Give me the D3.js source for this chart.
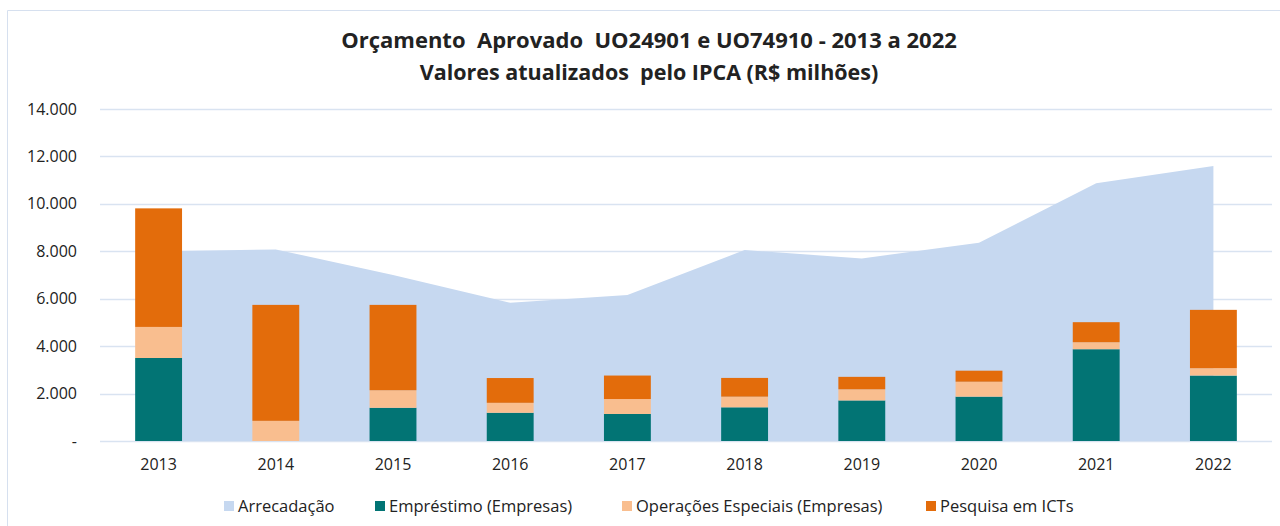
<!DOCTYPE html>
<html>
<head>
<meta charset="utf-8">
<script src="https://cdn.jsdelivr.net/npm/d3@7"></script>
<style>
  body { margin: 0; background: #fff; }
  svg text { font-family: "Open Sans", "Noto Sans", sans-serif; fill: #222; }
</style>
</head>
<body>
<script>
// chart data (R$ milhões)
const anos = ["2013", "2014", "2015", "2016", "2017", "2018", "2019", "2020", "2021", "2022"];
const arrecadacao = [8000, 8080, 7000, 5830, 6160, 8050, 7700, 8360, 10870, 11600];
const emprestimo = [3500, 0, 1400, 1190, 1140, 1420, 1710, 1870, 3870, 2760];
const operacoes = [1310, 850, 740, 420, 630, 450, 470, 630, 295, 310];
const pesquisa = [5000, 4890, 3600, 1045, 990, 790, 525, 465, 845, 2460];
const yTicks = [0, 2000, 4000, 6000, 8000, 10000, 12000, 14000];
const titulo = ["Orçamento  Aprovado  UO24901 e UO74910 - 2013 a 2022", "Valores atualizados  pelo IPCA (R$ milhões)"];

const W = 1280, H = 526;
const plot = { left: 100, right: 1272, top: 109, bottom: 441 };

const svg = d3.select("body").append("svg")
  .attr("width", W).attr("height", H);

// outer frame
svg.append("path")
  .attr("d", `M7.5,${H} V10.5 H${W}`)
  .attr("fill", "none").attr("stroke", "#d6e0ef").attr("stroke-width", 1);

// title
svg.append("g").selectAll("text")
  .data(titulo)
  .enter().append("text")
  .attr("x", 649).attr("y", (d, i) => 48 + i * 32)
  .attr("text-anchor", "middle")
  .style("font-size", (d, i) => i === 0 ? "22px" : "21.5px").style("font-weight", "bold")
  .style("white-space", "pre")
  .text(d => d);

const x = d3.scaleBand().domain(anos).range([plot.left, plot.right]).paddingInner(0.6).paddingOuter(0.3);
const y = d3.scaleLinear().domain([0, 14000]).range([plot.bottom, plot.top]);

// grid
svg.append("g").selectAll("line")
  .data(yTicks)
  .enter().append("line")
  .attr("x1", plot.left).attr("x2", plot.right)
  .attr("y1", d => Math.round(y(d)) + 0.5).attr("y2", d => Math.round(y(d)) + 0.5)
  .attr("stroke", "#d9e3f1").attr("stroke-width", 1.5);

// y axis labels
const fmt = d => d === 0 ? "-" : d3.format(",")(d).replace(/,/g, ".");
svg.append("g")
  .attr("transform", `translate(77,0)`)
  .call(d3.axisLeft(y).tickValues(yTicks).tickSize(0).tickPadding(0).tickFormat(fmt))
  .call(g => g.select(".domain").remove())
  .call(g => g.selectAll("text")
    .style("font-size", "16px")
    .attr("fill", "#222")
    .attr("font-family", "Open Sans"));

// area (Arrecadação)
const cx = d => x(d) + x.bandwidth() / 2;
const area = d3.area()
  .x((d, i) => cx(anos[i]))
  .y0(y(0))
  .y1(d => y(d));
svg.append("path")
  .datum(arrecadacao)
  .attr("d", area)
  .attr("fill", "#c6d8f0");

// stacked bars
const rows = anos.map((a, i) => ({ ano: a, emprestimo: emprestimo[i], operacoes: operacoes[i], pesquisa: pesquisa[i] }));
const keys = ["emprestimo", "operacoes", "pesquisa"];
const cores = { emprestimo: "#027474", operacoes: "#f9be8f", pesquisa: "#e36c0b" };
const series = d3.stack().keys(keys)(rows);

svg.append("g").selectAll("g")
  .data(series)
  .enter().append("g")
  .attr("fill", d => cores[d.key])
  .selectAll("rect")
  .data(d => d)
  .enter().append("rect")
  .attr("x", d => x(d.data.ano))
  .attr("width", x.bandwidth())
  .attr("y", d => y(d[1]))
  .attr("height", d => y(d[0]) - y(d[1]));

// x axis labels
svg.append("g")
  .attr("transform", `translate(0,${plot.bottom})`)
  .call(d3.axisBottom(x).tickSize(0).tickPadding(18))
  .call(g => g.select(".domain").remove())
  .call(g => g.selectAll("text")
    .style("font-size", "16px")
    .attr("fill", "#222")
    .attr("font-family", "Open Sans"));

// legend
const legenda = [
  { nome: "Arrecadação", cor: "#c6d8f0", x: 224 },
  { nome: "Empréstimo (Empresas)", cor: "#027474", x: 375 },
  { nome: "Operações Especiais (Empresas)", cor: "#f9be8f", x: 622 },
  { nome: "Pesquisa em ICTs", cor: "#e36c0b", x: 926 }
];
const lg = svg.append("g").selectAll("g")
  .data(legenda)
  .enter().append("g")
  .attr("transform", d => `translate(${d.x},506)`);
lg.append("rect")
  .attr("x", 0).attr("y", -5).attr("width", 10).attr("height", 10)
  .attr("fill", d => d.cor);
lg.append("text")
  .attr("x", 14).attr("y", 6)
  .style("font-size", "16.5px")
  .text(d => d.nome);
</script>
</body>
</html>
